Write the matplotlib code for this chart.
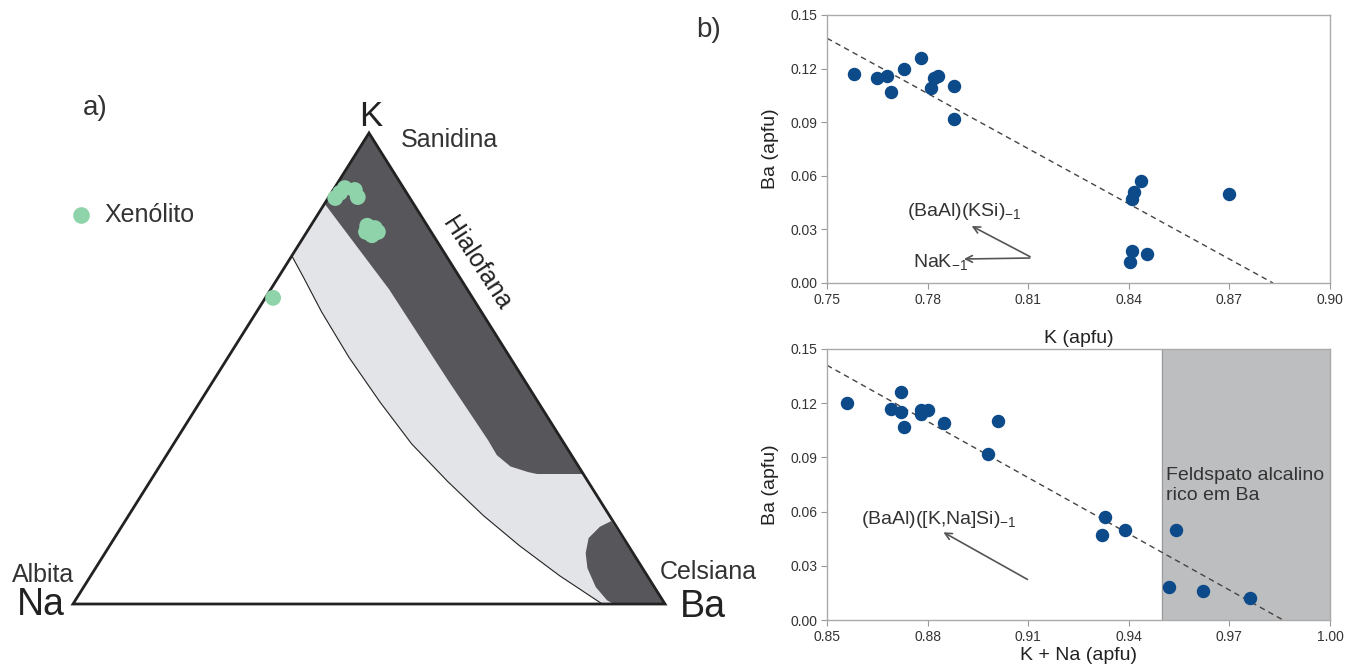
import matplotlib
matplotlib.use('Agg')
import matplotlib.pyplot as plt
import numpy as np
from matplotlib.patches import Polygon
from matplotlib.lines import Line2D

plt.rcParams['font.family'] = ['Liberation Sans', 'DejaVu Sans']
plt.rcParams['mathtext.default'] = 'regular'

# --- b) top: K vs Ba (apfu)
k_top = [0.758, 0.765, 0.768, 0.769, 0.773, 0.778, 0.781, 0.782, 0.783, 0.788, 0.788,
         0.8435, 0.8415, 0.841, 0.870, 0.841, 0.8405, 0.8455]
ba_top = [0.117, 0.115, 0.116, 0.107, 0.120, 0.126, 0.109, 0.115, 0.116, 0.110, 0.092,
          0.057, 0.051, 0.047, 0.050, 0.018, 0.012, 0.016]
fit_top_x = [0.75, 0.883]
fit_top_y = [0.137, 0.0]

# --- b) bottom: K+Na vs Ba (apfu)
kna_bot = [0.856, 0.869, 0.872, 0.872, 0.873, 0.878, 0.878, 0.880, 0.885, 0.898, 0.901,
           0.933, 0.932, 0.939, 0.954, 0.952, 0.962, 0.976]
ba_bot = [0.120, 0.117, 0.126, 0.115, 0.107, 0.116, 0.114, 0.116, 0.109, 0.092, 0.110,
          0.057, 0.047, 0.050, 0.050, 0.018, 0.016, 0.012]
fit_bot_x = [0.85, 0.986]
fit_bot_y = [0.141, 0.0]
ba_rich_span = [0.95, 1.0]

xt_top = [0.75, 0.78, 0.81, 0.84, 0.87, 0.90]
xt_bot = [0.85, 0.88, 0.91, 0.94, 0.97, 1.00]
yt = [0.00, 0.03, 0.06, 0.09, 0.12, 0.15]

# --- a) ternary K-Na-Ba: xenolith feldspars (molar fractions K, Ba)
xen_k = [0.650, 0.873, 0.883, 0.879, 0.864, 0.862, 0.803, 0.798, 0.783, 0.790, 0.790]
xen_ba = [0.013, 0.0145, 0.0175, 0.0365, 0.049, 0.012, 0.0955, 0.111, 0.1135, 0.120, 0.100]

# field boundaries (K, Ba fractions)
dark_k = [1.0, 0.276, 0.276, 0.276, 0.280, 0.292, 0.316, 0.348, 0.476, 0.668, 0.85]
dark_ba = [0.0, 0.724, 0.669, 0.646, 0.629, 0.593, 0.558, 0.527, 0.395, 0.200, 0.0]
curve_k = [0.736, 0.692, 0.620, 0.524, 0.428, 0.340, 0.260, 0.188, 0.124, 0.060, 0.0]
curve_ba = [0.003, 0.044, 0.110, 0.204, 0.305, 0.402, 0.503, 0.599, 0.692, 0.792, 0.894]
blob_k = [0.176, 0.164, 0.140, 0.108, 0.076, 0.036, 0.008, 0.0, 0.0]
blob_ba = [0.821, 0.808, 0.801, 0.812, 0.831, 0.865, 0.898, 0.913, 1.0]

W, H = 1351, 668
def fx(px):
    return px / W
def fy(py):
    return 1 - py / H

def tern(k, ba):
    k = np.asarray(k, float)
    ba = np.asarray(ba, float)
    return ba + k / 2, k

fig = plt.figure(figsize=(13.51, 6.68), dpi=100)

# ternary
tax = fig.add_axes([fx(73), fy(604), 592 / W, 471 / H])
tax.set_xlim(0, 1)
tax.set_ylim(0, 1)
tax.axis('off')

dark = '#57565b'
light = '#e3e4e8'
# light band: left edge segment + thin curve + base + right edge
lx, ly = tern(np.r_[1.0, curve_k, 0.0], np.r_[0.0, curve_ba, 1.0])
tax.add_patch(Polygon(np.c_[lx, ly], closed=True, fc=light, ec='none', zorder=1))
dx, dy = tern(dark_k, dark_ba)
tax.add_patch(Polygon(np.c_[dx, dy], closed=True, fc=dark, ec='none', zorder=2))
bx, by = tern(blob_k, blob_ba)
tax.add_patch(Polygon(np.c_[bx, by], closed=True, fc=dark, ec='none', zorder=2))
cx, cy = tern(curve_k, curve_ba)
tax.plot(cx, cy, color='#222222', lw=0.8, zorder=3)
vx, vy = tern([1, 0, 0], [0, 0, 1])
tax.add_patch(Polygon(np.c_[vx, vy], closed=True, fill=False, ec='#222222', lw=2,
                      zorder=4, joinstyle='miter', clip_on=False))
gx, gy = tern(xen_k, xen_ba)
green = '#8fd3aa'
tax.scatter(gx, gy, s=130, color=green, edgecolors='none', zorder=5, clip_on=False)

fig.text(fx(95), fy(108), 'a)', fontsize=20, ha='center', va='center', color='#333333')
fig.text(fx(371), fy(117), 'K', fontsize=25, ha='center', va='center', color='#222222')
fig.text(fx(401), fy(140), 'Sanidina', fontsize=18, ha='left', va='center', color='#333333')
fig.add_artist(Line2D([fx(81)], [fy(215)], marker='o', markersize=12, color=green,
                      markeredgewidth=0, transform=fig.transFigure))
fig.text(fx(104), fy(215), 'Xenólito', fontsize=18, ha='left', va='center', color='#333333')
fig.text(fx(43), fy(575), 'Albita', fontsize=18, ha='center', va='center', color='#333333')
fig.text(fx(41), fy(605), 'Na', fontsize=27, ha='center', va='center', color='#222222')
fig.text(fx(660), fy(572), 'Celsiana', fontsize=18, ha='left', va='center', color='#333333')
fig.text(fx(703), fy(607), 'Ba', fontsize=27, ha='center', va='center', color='#222222')
fig.text(fx(477), fy(263), 'Hialofana', fontsize=18, ha='center', va='center',
         rotation=-57, color='#222222')
fig.text(fx(709), fy(30), 'b)', fontsize=20, ha='center', va='center', color='#333333')

blue = '#0c4a89'

def style(ax, xt):
    ax.set_xlim(xt[0], xt[-1])
    ax.set_ylim(0, 0.15)
    ax.set_xticks(xt)
    ax.set_xticklabels(['%.2f' % v for v in xt])
    ax.set_yticks(yt)
    ax.set_yticklabels(['%.2f' % v for v in yt])
    for s in ax.spines.values():
        s.set_color('#aaaaaa')
        s.set_linewidth(1)
    ax.tick_params(length=4, width=0.8, color='#999999', labelcolor='#333333',
                   labelsize=10, pad=3)
    ax.set_ylabel('Ba (apfu)', fontsize=14, color='#222222')
    ax.yaxis.set_label_coords(-0.095, 0.5)

ax1 = fig.add_axes([fx(827), fy(283), 503 / W, 268 / H])
style(ax1, xt_top)
ax1.scatter(k_top, ba_top, s=75, color=blue, zorder=3)
ax1.plot(fit_top_x, fit_top_y, ls=(0, (4, 3)), color='#444444', lw=1, zorder=2)
ax1.set_xlabel('K (apfu)', fontsize=14, color='#222222')
ax1.xaxis.set_label_coords(0.5, -0.175)
ax1.text(0.7738, 0.040, '(BaAl)(KSi)$_{-1}$', fontsize=14, ha='left', va='center',
         color='#333333')
ax1.text(0.7755, 0.012, 'NaK$_{-1}$', fontsize=14, ha='left', va='center', color='#333333')
arrow = dict(arrowstyle='->', color='#555555', lw=1.2, mutation_scale=12)
ax1.annotate('', xy=(0.7924, 0.0326), xytext=(0.8113, 0.014), arrowprops=arrow)
ax1.annotate('', xy=(0.790, 0.0134), xytext=(0.8113, 0.014), arrowprops=arrow)

ax2 = fig.add_axes([fx(827), fy(620), 503 / W, 271 / H])
style(ax2, xt_bot)
ax2.axvspan(ba_rich_span[0], ba_rich_span[1], color='#bdbec0', zorder=0)
ax2.axvline(ba_rich_span[0], color='#999999', lw=0.8, zorder=1)
ax2.scatter(kna_bot, ba_bot, s=75, color=blue, zorder=3)
ax2.plot(fit_bot_x, fit_bot_y, ls=(0, (4, 3)), color='#444444', lw=1, zorder=2)
ax2.set_xlabel('K + Na (apfu)', fontsize=14, color='#222222')
ax2.xaxis.set_label_coords(0.5, -0.10)
ax2.text(0.8602, 0.0558, '(BaAl)([K,Na]Si)$_{-1}$', fontsize=14, ha='left', va='center',
         color='#333333')
ax2.annotate('', xy=(0.884, 0.0493), xytext=(0.9105, 0.0217), arrowprops=arrow)
ax2.text(0.951, 0.0745, 'Feldspato alcalino\nrico em Ba', fontsize=14, ha='left',
         va='center', color='#333333', linespacing=1.2)

fig.savefig('out.png', dpi=100)
